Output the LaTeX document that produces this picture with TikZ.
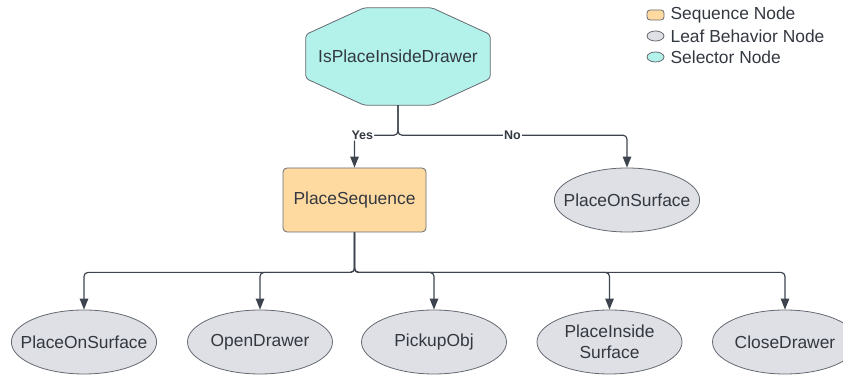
\documentclass[tikz,border=0pt]{standalone}
\usepackage{fontspec}
\setmainfont{Liberation Sans}
\usetikzlibrary{arrows.meta, positioning, shapes.geometric, backgrounds}
\definecolor{seqfill}{RGB}{255,218,160}
\definecolor{leaffill}{RGB}{222,224,229}
\definecolor{selfill}{RGB}{179,242,234}
\definecolor{linecol}{RGB}{62,68,78}
\definecolor{txtcol}{RGB}{51,56,64}

\begin{document}
\begin{tikzpicture}[x=1pt, y=1pt,
    every node/.style={font=\fontsize{17.4}{21.5}\selectfont, text=txtcol},
    leaf/.style={draw=linecol!80, ellipse, fill=leaffill, line width=0.8pt,
                 minimum width=145pt, minimum height=64pt,
                 inner xsep=-12pt, inner ysep=2pt, align=center},
    seqbox/.style={draw=linecol!80, fill=seqfill, rounded corners=4pt, line width=0.8pt,
                   minimum width=143pt, minimum height=64pt},
    arrow/.style={-{Triangle[length=11pt, width=8.5pt]}, draw=linecol,
                  line width=1.2pt, rounded corners=4pt},
    tag/.style={font=\fontsize{12.5}{14}\selectfont\bfseries, fill=white, inner sep=1pt},
    key/.style={draw=linecol!80, line width=0.8pt, minimum width=17pt, minimum height=10pt, inner sep=0pt},
    keytext/.style={inner sep=0pt, anchor=west}
]
\path[use as bounding box] (0,0) rectangle (843,377);

% Selector (octagon drawn behind the node)
\node[minimum width=184pt, minimum height=97pt, inner sep=0pt] (sel) at (398,320.5)
    {IsPlaceInsideDrawer};
\begin{scope}[on background layer]
\draw[fill=selfill, draw=linecol!80, line width=0.8pt, rounded corners=3pt]
    ([xshift=-34pt]sel.north) -- ([xshift=34pt]sel.north)
    -- ([yshift=22pt]sel.east) -- ([yshift=-22pt]sel.east)
    -- ([xshift=34pt]sel.south) -- ([xshift=-34pt]sel.south)
    -- ([yshift=-22pt]sel.west) -- ([yshift=22pt]sel.west) -- cycle;
\end{scope}

% Second level
\node[seqbox] (seq) at (354.5,177) {PlaceSequence};
\node[leaf] (surf) at (627,177) {PlaceOnSurface};

% Leaves of the sequence
\node[leaf] (lf1) at (84,35) {PlaceOnSurface};
\node[leaf] (lf2) at (260,35) {OpenDrawer};
\node[leaf] (lf3) at (434,35) {PickupObj};
\node[leaf] (lf4) at (609.5,35) {PlaceInside\\Surface};
\node[leaf] (lf5) at (785,35) {CloseDrawer};

% Arrows
\draw[arrow] (sel.south) -- ++(0,-30) -| node[tag, pos=0.41] {Yes} (seq.north);
\draw[arrow] (sel.south) -- ++(0,-30) -| node[tag, pos=0.25] {No} (surf.north);
\foreach \leafname in {lf1,lf2,lf3,lf4,lf5}
    \draw[arrow] (seq.south) -- ++(0,-40) -| (\leafname.north);

% Legend
\node[key, fill=seqfill, rounded corners=3pt] (k1) at (655.5,362) {};
\node[key, fill=leaffill, ellipse] (k2) at (655.5,341) {};
\node[key, fill=selfill, ellipse] (k3) at (655.5,320) {};
\node[keytext, right=6pt of k1] (t1) {Sequence Node};
\node[keytext, right=6pt of k2] (t2) {Leaf Behavior Node};
\node[keytext, right=6pt of k3] (t3) {Selector Node};

\end{tikzpicture}
\end{document}
